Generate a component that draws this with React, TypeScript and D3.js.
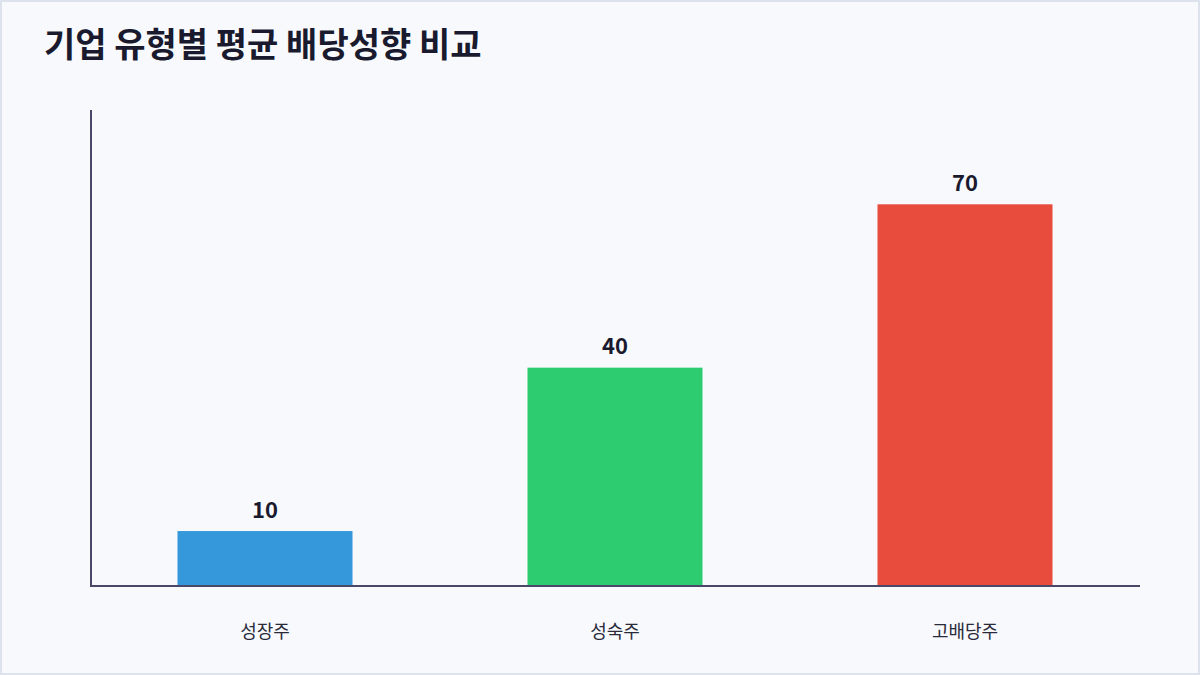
import React from "react";
import * as d3 from "d3";

const categories = ["성장주", "성숙주", "고배당주"];
const values = [10, 40, 70];
const colors = ["#3498db", "#2ecc71", "#e74c3c"];
const title = "기업 유형별 평균 배당성향 비교";

export default function App() {
  const W = 1200, H = 675;
  const left = 91, right = 1140, top = 110, bottom = 586;
  const x = d3.scaleBand<string>().domain(categories).range([left - 1, right]).paddingInner(0.5).paddingOuter(0.25);
  const y = d3.scaleLinear().domain([0, 87.5]).range([bottom - 0.5, top - 1]);
  const font = "'Noto Sans CJK KR', 'Noto Sans', sans-serif";
  React.useEffect(() => { document.body.style.margin = "0"; }, []);
  return (
    <svg width={W} height={H} style={{ display: "block", fontFamily: font }}>
      <rect x={1} y={1} width={W - 2} height={H - 2} fill="#f7f9fd" stroke="#dde3ec" strokeWidth={2} />
      <text x={44} y={57} fontSize={34} fontWeight={700} fill="#1a1a2e">{title}</text>
      {categories.map((c, i) => (
        <g key={c}>
          <rect x={x(c)} y={y(values[i])} width={x.bandwidth()} height={bottom - y(values[i])} fill={colors[i]} />
          <text x={(x(c) as number) + x.bandwidth() / 2} y={y(values[i]) - 13.5} textAnchor="middle" fontSize={22} fontWeight={700} fill="#1a1a2e">{values[i]}</text>
          <text x={(x(c) as number) + x.bandwidth() / 2} y={638} textAnchor="middle" fontSize={18} fill="#2a2a3a">{c}</text>
        </g>
      ))}
      <line x1={left} x2={left} y1={top} y2={bottom + 1} stroke="#4a4868" strokeWidth={2} />
      <line x1={left - 1} x2={right} y1={bottom} y2={bottom} stroke="#4a4868" strokeWidth={2} />
    </svg>
  );
}
